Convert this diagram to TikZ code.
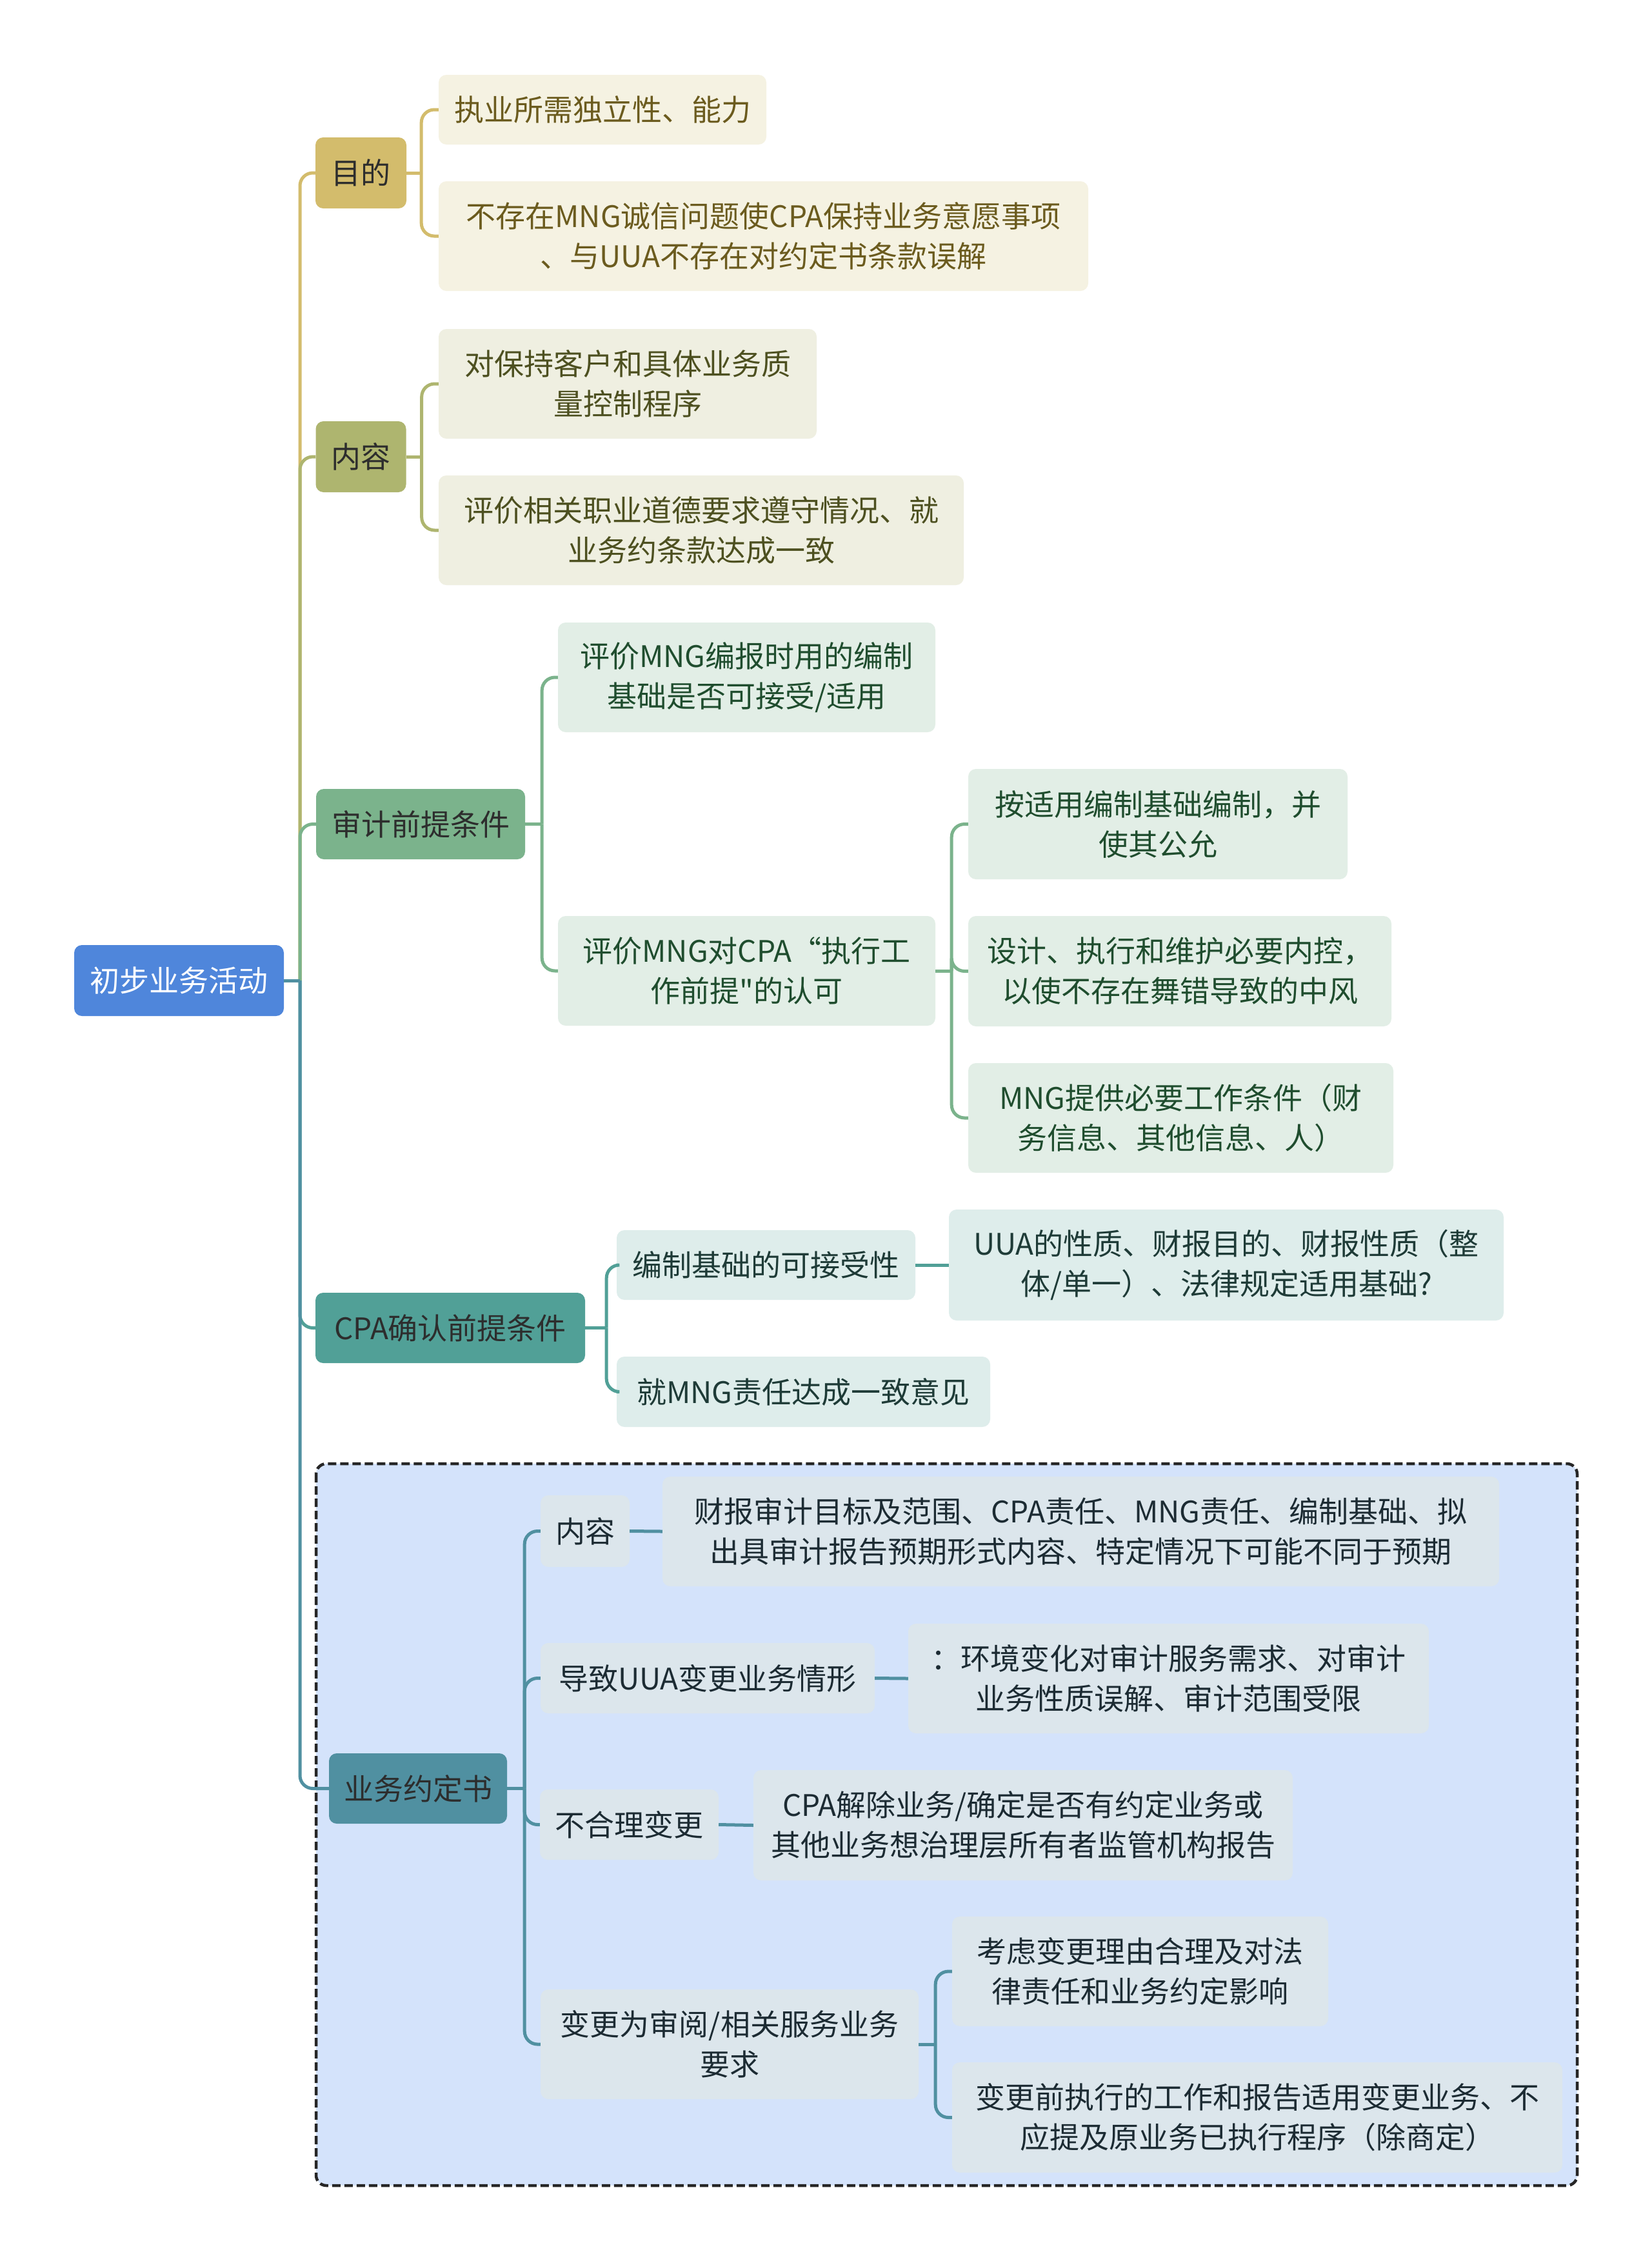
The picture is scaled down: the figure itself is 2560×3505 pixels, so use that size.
\documentclass[tikz,border=0pt]{standalone}
\usepackage{fontspec}
\newfontfamily\cjkfont{Noto Sans CJK SC}
\usetikzlibrary{calc}
\definecolor{cRoot}{HTML}{4F86DB}
\definecolor{cMd}{HTML}{D3BC6C}
\definecolor{cNr}{HTML}{AEB56F}
\definecolor{cSj}{HTML}{7BB38C}
\definecolor{cCpa}{HTML}{51A097}
\definecolor{cYw}{HTML}{5090A1}
\definecolor{fMd}{HTML}{F5F2E2}
\definecolor{fNr}{HTML}{EFEFE1}
\definecolor{fSj}{HTML}{E2EEE6}
\definecolor{fCpa}{HTML}{DEEDEB}
\definecolor{fYw}{HTML}{DCE6EC}
\definecolor{tMd}{HTML}{6B5B1E}
\definecolor{tNr}{HTML}{4D5020}
\definecolor{tSj}{HTML}{1F4D2E}
\definecolor{tCpa}{HTML}{1E3B37}
\definecolor{tYw}{HTML}{1C2B33}
\definecolor{tDark}{HTML}{2D2D2D}
\definecolor{fBox}{HTML}{D4E3FB}
\begin{document}
\begin{tikzpicture}[x=1pt,y=-1pt,
  box/.style={rounded corners=12pt, inner sep=0pt, align=center, font=\cjkfont\fontsize{46}{62}\selectfont},
  rootbox/.style={box, fill=cRoot, text=white},
  mdbox/.style={box, fill=cMd, text=tDark},
  nrbox/.style={box, fill=cNr, text=tDark},
  sjbox/.style={box, fill=cSj, text=tDark},
  cpabox/.style={box, fill=cCpa, text=tDark},
  ywbox/.style={box, fill=cYw, text=tDark},
  mdleaf/.style={box, fill=fMd, text=tMd},
  nrleaf/.style={box, fill=fNr, text=tNr},
  sjleaf/.style={box, fill=fSj, text=tSj},
  cpaleaf/.style={box, fill=fCpa, text=tCpa},
  ywleaf/.style={box, fill=fYw, text=tYw},
  lk/.style={line width=5pt},
  curvelink/.style={lk, rounded corners=20pt},
  sz/.style 2 args={minimum width=#1pt, minimum height=#2pt}
]
\useasboundingbox (0,0) rectangle (2560,3505);
\fill[white] (0,0) rectangle (2560,3505);

% dashed group frame
\draw[fill=fBox, draw=black!85, line width=4.5pt, dash pattern=on 13pt off 6pt, rounded corners=16pt]
  (490,2269) rectangle (2445,3388);

% root
\node[rootbox, sz={325}{110}] (root) at (277.5,1520) {初步业务活动};

% level 1
\node[mdbox, sz={141}{110}] (md) at (559.5,268) {目的};
\node[nrbox, sz={140}{110}] (nr) at (559.5,708) {内容};
\node[sjbox, sz={324}{109}] (sj) at (652,1277.5) {审计前提条件};
\node[cpabox, sz={418}{109}] (cpa) at (698,2058.5) {CPA确认前提条件};
\node[ywbox, sz={276}{109}] (yw) at (648,2772.5) {业务约定书};

% 目的 children
\node[mdleaf, sz={508}{108}] (md1) at (934,170) {执业所需独立性、能力};
\node[mdleaf, sz={1007}{170}] (md2) at (1183.5,366) {不存在MNG诚信问题使CPA保持业务意愿事项\\、与UUA不存在对约定书条款误解};

% 内容 children
\node[nrleaf, sz={586}{170}] (nr1) at (973,595) {对保持客户和具体业务质\\量控制程序};
\node[nrleaf, sz={814}{170}] (nr2) at (1087,822) {评价相关职业道德要求遵守情况、就\\业务约条款达成一致};

% 审计前提条件 children
\node[sjleaf, sz={585}{170}] (sj1) at (1157.5,1050) {评价MNG编报时用的编制\\基础是否可接受/适用};
\node[sjleaf, sz={585}{170}] (sj2) at (1157.5,1505) {评价MNG对CPA“执行工\\作前提"的认可};
\node[sjleaf, sz={588}{171}] (sj21) at (1795,1277.5) {按适用编制基础编制，并\\使其公允};
\node[sjleaf, sz={656}{171}] (sj22) at (1829,1505.5) {设计、执行和维护必要内控，\\以使不存在舞错导致的中风};
\node[sjleaf, sz={659}{170}] (sj23) at (1830.5,1733) {MNG提供必要工作条件（财\\务信息、其他信息、人）};

% CPA children
\node[cpaleaf, sz={463}{108}] (cpa1) at (1187.5,1961) {编制基础的可接受性};
\node[cpaleaf, sz={860}{172}] (cpa11) at (1901,1961) {UUA的性质、财报目的、财报性质（整\\体/单一）、法律规定适用基础?};
\node[cpaleaf, sz={579}{109}] (cpa2) at (1245.5,2157.5) {就MNG责任达成一致意见};

% 业务约定书 children
\node[ywleaf, sz={138}{111}] (yw1) at (907,2373.5) {内容};
\node[ywleaf, sz={1297}{170}] (yw11) at (1675.5,2374) {财报审计目标及范围、CPA责任、MNG责任、编制基础、拟\\出具审计报告预期形式内容、特定情况下可能不同于预期};
\node[ywleaf, sz={518}{109}] (yw2) at (1097,2601.5) {导致UUA变更业务情形};
\node[ywleaf, sz={807}{170}] (yw21) at (1811.5,2602) {：环境变化对审计服务需求、对审计\\业务性质误解、审计范围受限};
\node[ywleaf, sz={277}{109}] (yw3) at (975.5,2828.5) {不合理变更};
\node[ywleaf, sz={836}{171}] (yw31) at (1586,2829.5) {CPA解除业务/确定是否有约定业务或\\其他业务想治理层所有者监管机构报告};
\node[ywleaf, sz={586}{170}] (yw4) at (1131,3169) {变更为审阅/相关服务业务\\要求};
\node[ywleaf, sz={583}{170}] (yw41) at (1767.5,3056) {考虑变更理由合理及对法\\律责任和业务约定影响};
\node[ywleaf, sz={946}{171}] (yw42) at (1949,3282.5) {变更前执行的工作和报告适用变更业务、不\\应提及原业务已执行程序（除商定）};

% junctions
\coordinate (j0) at (465,1520);
\coordinate (jmd) at ([xshift=23pt]md.east);
\coordinate (jnr) at ([xshift=24pt]nr.east);
\coordinate (jsj) at ([xshift=26pt]sj.east);
\coordinate (jsj2) at ([xshift=25pt]sj2.east);
\coordinate (jcpa) at ([xshift=33pt]cpa.east);
\coordinate (jyw) at ([xshift=27pt]yw.east);
\coordinate (jyw4) at ([xshift=26pt]yw4.east);

% trunk
\draw[curvelink, cMd] (j0) |- (md.west);
\draw[curvelink, cNr] (j0) |- (nr.west);
\draw[curvelink, cSj] (j0) |- (sj.west);
\draw[curvelink, cCpa] (j0) |- (cpa.west);
\draw[curvelink, cYw] (j0) |- (yw.west);
\draw[lk, cYw] (root.east) -- (j0);

% 目的
\draw[lk, cMd] (md.east) -- (jmd);
\draw[curvelink, cMd] (jmd) |- (md1.west);
\draw[curvelink, cMd] (jmd) |- (md2.west);
% 内容
\draw[lk, cNr] (nr.east) -- (jnr);
\draw[curvelink, cNr] (jnr) |- (nr1.west);
\draw[curvelink, cNr] (jnr) |- (nr2.west);
% 审计前提条件
\draw[lk, cSj] (sj.east) -- (jsj);
\draw[curvelink, cSj] (jsj) |- (sj1.west);
\draw[curvelink, cSj] (jsj) |- (sj2.west);
\draw[lk, cSj] (sj2.east) -- (jsj2);
\draw[curvelink, cSj] (jsj2) |- (sj21.west);
\draw[curvelink, cSj] (jsj2) |- (sj22.west);
\draw[curvelink, cSj] (jsj2) |- (sj23.west);
% CPA
\draw[lk, cCpa] (cpa.east) -- (jcpa);
\draw[curvelink, cCpa] (jcpa) |- (cpa1.west);
\draw[curvelink, cCpa] (jcpa) |- (cpa2.west);
\draw[lk, cCpa] (cpa1.east) -- (cpa11.west);
% 业务约定书
\draw[lk, cYw] (yw.east) -- (jyw);
\draw[curvelink, cYw] (jyw) |- (yw1.west);
\draw[curvelink, cYw] (jyw) |- (yw2.west);
\draw[curvelink, cYw] (jyw) |- (yw3.west);
\draw[curvelink, cYw] (jyw) |- (yw4.west);
\draw[lk, cYw] (yw1.east) -- (yw11.west);
\draw[lk, cYw] (yw2.east) -- (yw21.west);
\draw[lk, cYw] (yw3.east) -- (yw31.west);
\draw[lk, cYw] (yw4.east) -- (jyw4);
\draw[curvelink, cYw] (jyw4) |- (yw41.west);
\draw[curvelink, cYw] (jyw4) |- (yw42.west);
\end{tikzpicture}
\end{document}
